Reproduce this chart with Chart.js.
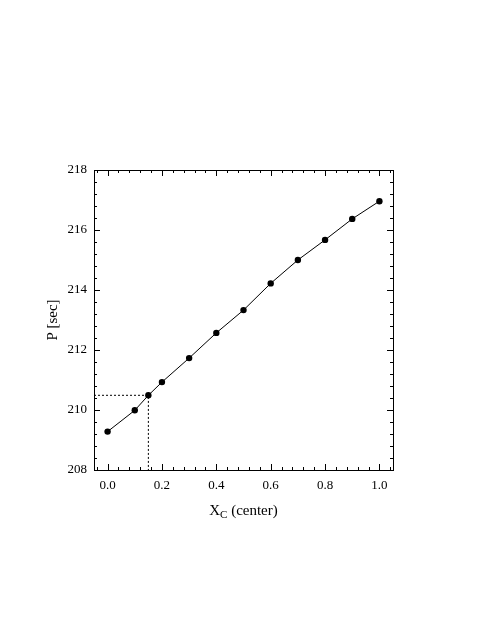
<!DOCTYPE html>
<html>
<head>
<meta charset="utf-8">
<script src="https://cdn.jsdelivr.net/npm/chart.js@4/dist/chart.umd.min.js"></script>
<style>
  html, body { margin: 0; padding: 0; background: #fff; }
  #wrap { width: 489px; height: 639px; }
</style>
</head>
<body>
<div id="wrap"><canvas id="chart" width="489" height="639"></canvas></div>
<script>
// values
const xc = [0.0, 0.1, 0.15, 0.2, 0.3, 0.4, 0.5, 0.6, 0.7, 0.8, 0.9, 1.0];
const period = [209.28, 209.99, 210.49, 210.93, 211.73, 212.57, 213.33, 214.22, 215.0, 215.67, 216.37, 216.96];

// the dotted guide to the 0.15 point
const guideX = [-0.05, 0.15, 0.15];
const guideY = [210.49, 210.49, 208];

const xTicks = [0.0, 0.2, 0.4, 0.6, 0.8, 1.0];
const yTicks = [208, 210, 212, 214, 216, 218];

const serif = "'Liberation Serif', 'DejaVu Serif', serif";

// inward ticks on all four sides + frame + axis titles
const framePlugin = {
  id: "frame",
  afterDraw(chart) {
    const ctx = chart.ctx;
    const a = chart.chartArea;
    const xs = chart.scales.x, ys = chart.scales.y;
    ctx.save();
    ctx.strokeStyle = "#000";
    ctx.lineWidth = 1;
    ctx.strokeRect(Math.round(a.left) + 0.5, Math.round(a.top) + 0.5,
      Math.round(a.right - a.left), Math.round(a.bottom - a.top));

    ctx.beginPath();
    for (let i = -1; i <= 26; i++) {
      const v = i * 0.04;
      if (v < xs.min || v > xs.max) continue;
      const px = Math.round(xs.getPixelForValue(v)) + 0.5;
      const len = i % 5 === 0 ? 6 : 3;
      ctx.moveTo(px, a.bottom); ctx.lineTo(px, a.bottom - len);
      ctx.moveTo(px, a.top); ctx.lineTo(px, a.top + len);
    }
    for (let i = 0; i <= 25; i++) {
      const v = 208 + i * 0.4;
      const py = Math.round(ys.getPixelForValue(v)) + 0.5;
      const len = i % 5 === 0 ? 6 : 3;
      ctx.moveTo(a.left, py); ctx.lineTo(a.left + len, py);
      ctx.moveTo(a.right, py); ctx.lineTo(a.right - len, py);
    }
    ctx.stroke();

    // x title with subscript
    ctx.fillStyle = "#000";
    ctx.textBaseline = "alphabetic";
    const cx = (a.left + a.right) / 2;
    const big = "15px " + serif, small = "11px " + serif;
    ctx.font = big;
    const w1 = ctx.measureText("X").width;
    const w3 = ctx.measureText(" (center)").width;
    ctx.font = small;
    const w2 = ctx.measureText("C").width;
    let x0 = cx - (w1 + w2 + w3) / 2;
    const base = 515;
    ctx.textAlign = "left";
    ctx.font = big;
    ctx.fillText("X", x0, base);
    ctx.font = small;
    ctx.fillText("C", x0 + w1, base + 3);
    ctx.font = big;
    ctx.fillText(" (center)", x0 + w1 + w2, base);

    // y title
    ctx.translate(57, (a.top + a.bottom) / 2);
    ctx.rotate(-Math.PI / 2);
    ctx.textAlign = "center";
    ctx.font = big;
    ctx.fillText("P [sec]", 0, 0);
    ctx.restore();
  }
};

new Chart(document.getElementById("chart"), {
  type: "scatter",
  data: {
    datasets: [
      {
        data: xc.map((x, i) => ({ x: x, y: period[i] })),
        showLine: true,
        borderColor: "#000",
        borderWidth: 1,
        backgroundColor: "#000",
        pointRadius: 3.2,
        pointBorderWidth: 0,
        order: 1
      },
      {
        data: guideX.map((x, i) => ({ x: x, y: guideY[i] })),
        showLine: true,
        borderColor: "#000",
        borderWidth: 1,
        borderDash: [2, 2],
        pointRadius: 0,
        order: 2
      }
    ]
  },
  options: {
    responsive: false,
    animation: false,
    layout: { padding: { top: 170, right: 96, left: 0, bottom: 0 } },
    plugins: { legend: { display: false }, tooltip: { enabled: false } },
    scales: {
      x: {
        type: "linear",
        min: -0.05,
        max: 1.05,
        grid: { display: false, drawTicks: false },
        border: { display: false },
        afterBuildTicks: (s) => { s.ticks = xTicks.map((v) => ({ value: v })); },
        afterFit: (s) => { s.height = 169; },
        ticks: {
          padding: 8,
          color: "#000",
          maxRotation: 0,
          font: { family: serif, size: 13 },
          callback: (v) => Number(v).toFixed(1)
        }
      },
      y: {
        type: "linear",
        min: 208,
        max: 218,
        grid: { display: false, drawTicks: false },
        border: { display: false },
        afterBuildTicks: (s) => { s.ticks = yTicks.map((v) => ({ value: v })); },
        afterFit: (s) => { s.width = 94; },
        ticks: {
          padding: 7,
          color: "#000",
          font: { family: serif, size: 13 },
          callback: (v) => String(v)
        }
      }
    }
  },
  plugins: [framePlugin]
});
</script>
</body>
</html>
